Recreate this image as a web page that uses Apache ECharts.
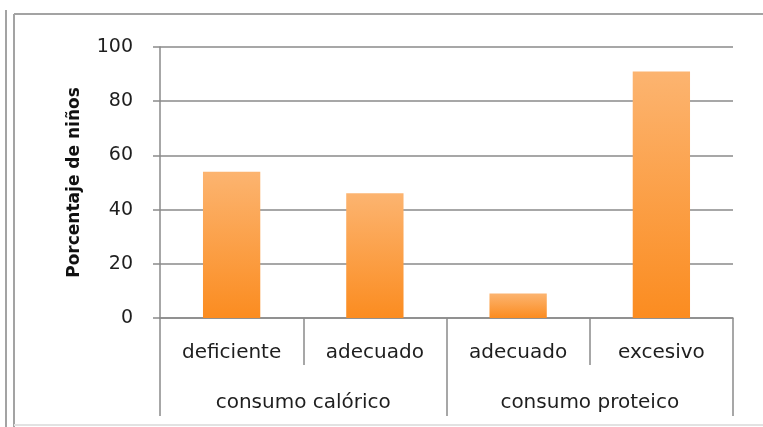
<!DOCTYPE html>
<html>
<head>
<meta charset="utf-8">
<script src="https://cdn.jsdelivr.net/npm/echarts@6/dist/echarts.min.js"></script>
<style>
  html, body { margin: 0; padding: 0; background: #fff; }
  #chart { width: 763px; height: 427px; }
</style>
</head>
<body>
<div id="chart"></div>
<script>
// datos
const categories = ['deficiente', 'adecuado', 'adecuado', 'excesivo']
const groups = ['consumo calórico', 'consumo proteico']
const values = [54, 46, 9, 91]
const yTicks = [0, 20, 40, 60, 80, 100]

const font = '"DejaVu Sans", sans-serif'
const lineColor = '#8a8a8a'

const chart = echarts.init(document.getElementById('chart'))

const option = {
  animation: false,
  backgroundColor: '#fff',
  textStyle: { fontFamily: font },
  grid: { left: 160, right: 30, top: 47, bottom: 109 },
  xAxis: [
    {
      type: 'category',
      data: categories,
      position: 'bottom',
      axisLine: { show: true, lineStyle: { color: lineColor, width: 1.5 } },
      axisTick: { show: true, length: 47, lineStyle: { color: lineColor, width: 1.5 } },
      axisLabel: { margin: 25, fontSize: 20, color: '#1e1e1e', fontFamily: font }
    },
    {
      type: 'category',
      data: groups,
      position: 'bottom',
      axisLine: { show: false },
      axisTick: { show: true, length: 98, lineStyle: { color: lineColor, width: 1.5 } },
      axisLabel: { margin: 75, fontSize: 20, color: '#1e1e1e', fontFamily: font }
    }
  ],
  yAxis: {
    type: 'value',
    min: yTicks[0],
    max: yTicks[yTicks.length - 1],
    interval: yTicks[1] - yTicks[0],
    name: 'Porcentaje de niños',
    nameLocation: 'middle',
    nameGap: 77,
    nameTextStyle: { fontSize: 17, fontWeight: 'bold', color: '#111', fontFamily: font },
    axisLine: { show: true, lineStyle: { color: lineColor, width: 1.5 } },
    axisTick: { show: true, length: 7, lineStyle: { color: lineColor, width: 1.5 } },
    axisLabel: { margin: 27, fontSize: 19, color: '#1e1e1e', fontFamily: font },
    splitLine: { show: true, lineStyle: { color: lineColor, width: 1.5 } }
  },
  series: [
    {
      type: 'bar',
      xAxisIndex: 0,
      data: values,
      barWidth: '40%',
      itemStyle: {
        color: new echarts.graphic.LinearGradient(0, 0, 0, 1, [
          { offset: 0, color: '#fcb470' },
          { offset: 1, color: '#fb8c20' }
        ])
      }
    }
  ],
  graphic: [
    // marco del gráfico
    { type: 'line', shape: { x1: 6, y1: 10, x2: 6, y2: 427 }, style: { stroke: '#a3a3a3', lineWidth: 2 } },
    { type: 'line', shape: { x1: 14, y1: 14, x2: 763, y2: 14 }, style: { stroke: '#a3a3a3', lineWidth: 2 } },
    { type: 'line', shape: { x1: 14, y1: 14, x2: 14, y2: 427 }, style: { stroke: '#a3a3a3', lineWidth: 2 } },
    { type: 'line', shape: { x1: 14, y1: 425, x2: 763, y2: 425 }, style: { stroke: '#e2e2e2', lineWidth: 2 } }
  ]
}

chart.setOption(option)
</script>
</body>
</html>
